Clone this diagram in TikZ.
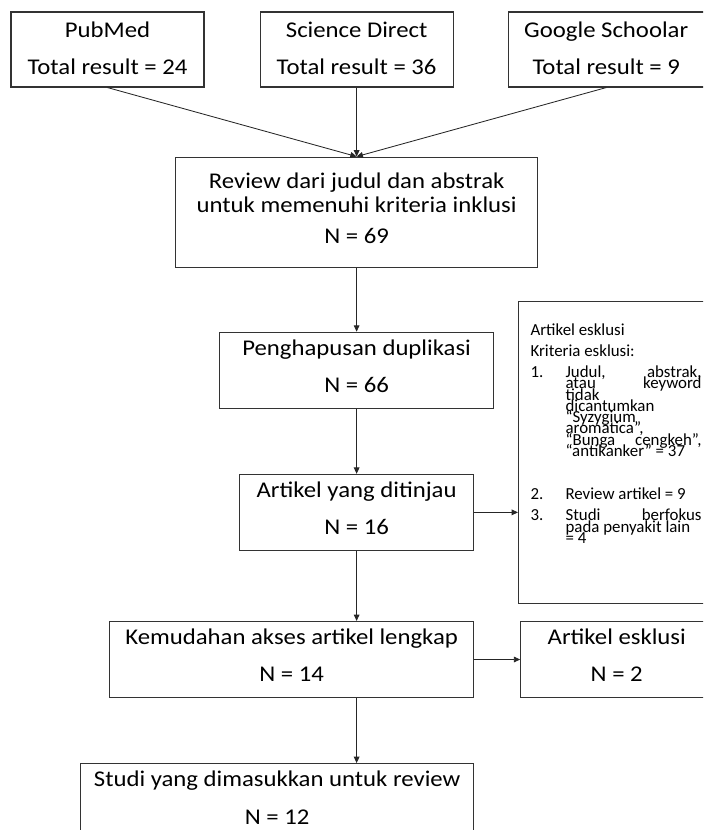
\documentclass[tikz,border=0pt]{standalone}
\usepackage{fontspec}
\setmainfont{Carlito}
\newfontfamily\boxfont{Carlito}[FakeStretch=1.1]
\usetikzlibrary{%
	arrows.meta,%
	calc,%
	positioning,%
}
\newcommand{\mainsize}{\boxfont\fontsize{16pt}{17pt}\selectfont}
\newcommand{\smallsize}{\fontsize{12pt}{8pt}\selectfont}
\newcommand{\critem}[2]{%
	\par\hangindent=0.875cm\hangafter=1\relax
	\noindent\makebox[0.875cm][l]{#1}#2\par}
\tikzset{
	>={Triangle[length=4.5pt,width=4pt]},%
	nodes={align=center},%
	flowbox/.style={%
			draw=black!80,%
			rectangle,%
			line width=0.8pt,%
			inner sep=0pt,%
			minimum height=1.9cm,%
			text depth=5.7pt,%
			font=\mainsize},%
	sourcebox/.style={%
			flowbox,%
			text depth=1.4pt,%
			minimum width=4.825cm,%
			minimum height=1.875cm},%
	criteriabox/.style={%
			draw=black!80,%
			rectangle,%
			line width=0.8pt,%
			inner sep=0pt,%
			font=\smallsize,%
			anchor=north west},%
	arrowline/.style={%
			->,%
			line width=0.6pt,%
			draw=black!85},%
}

\begin{document}
\begin{tikzpicture}
	\useasboundingbox (0,0) rectangle (17.575,-20.75);
	\clip (0,0) rectangle (17.575,-20.75);

	\node[sourcebox] (pubmed) at (2.6875,-1.2375) {PubMed\\[9.5pt]Total result = 24};
	\node[sourcebox, right=1.375cm of pubmed] (scidirect) {Science Direct\\[9.5pt]Total result = 36};
	\node[sourcebox, minimum width=4.9cm, right=1.35cm of scidirect] (scholar) {Google Schoolar\\[9.5pt]Total result = 9};

	\node[flowbox, minimum width=9.05cm, minimum height=2.75cm, below=1.725cm of scidirect] (review) {Review dari judul dan abstrak\\untuk memenuhi kriteria inklusi\\[5pt]N = 69};
	\node[flowbox, minimum width=6.85cm, below=1.6cm of review] (dupl) {Penghapusan duplikasi\\[9.5pt]N = 66};
	\node[flowbox, minimum width=5.85cm, below=1.625cm of dupl] (tinjau) {Artikel yang ditinjau\\[9.5pt]N = 16};
	\node[flowbox, minimum width=9.1cm, below=1.75cm of tinjau.south east, anchor=north east] (akses) {Kemudahan akses artikel lengkap\\[9.5pt]N = 14};
	\node[flowbox, minimum width=9.825cm, below=1.625cm of akses.south east, anchor=north east] (studi) {Studi yang dimasukkan untuk review\\[9.5pt]N = 12};
	\node[flowbox, minimum width=4.8cm, right=1.15cm of akses] (esklusi) {Artikel esklusi\\[9.5pt]N = 2};

	% kriteria esklusi, text set line by line
	\node[criteriabox] (kriteria) at (12.95,-7.525) {\begin{minipage}[c][7.55cm][t]{4.8cm}
			\smallsize\lineskiplimit=-\maxdimen\parskip=6.9pt
			\leftskip=0.3cm\rightskip=0.225cm
			\vspace*{16pt}
			Artikel esklusi\par
			Kriteria esklusi:
			\critem{1.}{Judul,\hfill abstrak,\\atau\hfill keyword\\tidak\\dicantumkan\\“Syzygium\\aromatica”,\\“Bunga\hfill cengkeh”,\\“antikanker” = 37}
			\vspace{16.1pt}
			\critem{2.}{Review artikel = 9}
			\critem{3.}{Studi\hfill berfokus\\pada penyakit lain\\= 4}
		\end{minipage}};

	\draw[arrowline] (pubmed.south) -- (review.north);
	\draw[arrowline] (scidirect) -- (review);
	\draw[arrowline] (scholar.south) -- (review.north);
	\draw[arrowline] (review) -- (dupl);
	\draw[arrowline] (dupl) -- (tinjau);
	\draw[arrowline] (tinjau) -- (tinjau |- akses.north);
	\draw[arrowline] (tinjau |- akses.south) -- (tinjau |- studi.north);
	\draw[arrowline] (tinjau.east) -- (tinjau.east -| kriteria.west);
	\draw[arrowline] (akses) -- (esklusi);
\end{tikzpicture}
\end{document}
